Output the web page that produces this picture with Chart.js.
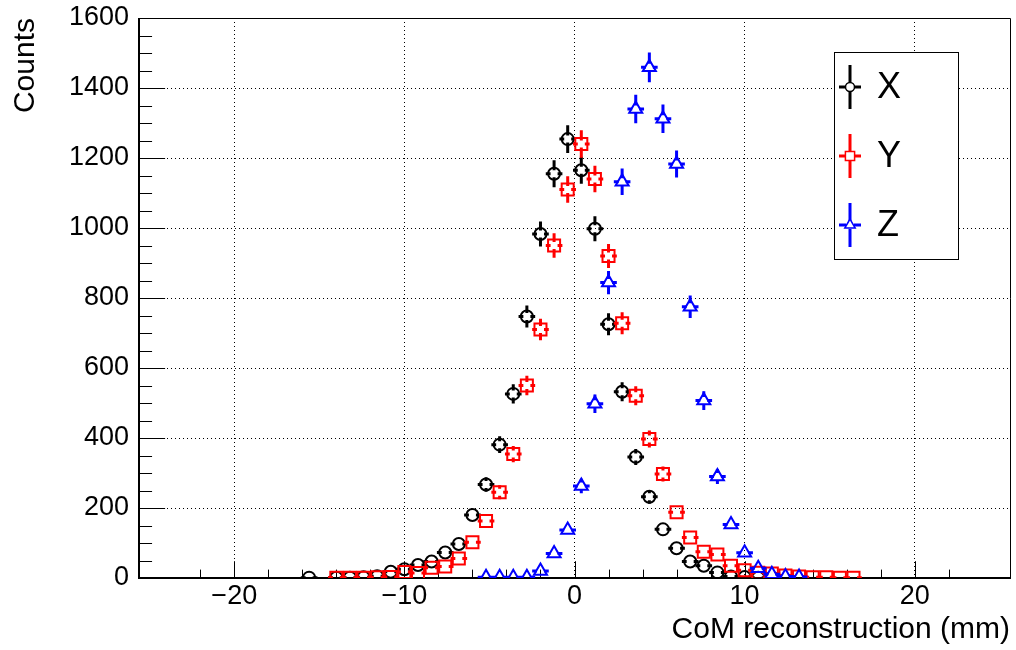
<!DOCTYPE html>
<html>
<head>
<meta charset="utf-8">
<title>CoM reconstruction</title>
<script src="https://cdn.jsdelivr.net/npm/chart.js@4.4.1/dist/chart.umd.min.js"></script>
<style>
  html, body { margin: 0; padding: 0; background: #fff; }
  #wrap { width: 1016px; height: 650px; }
</style>
</head>
<body>
<div id="wrap"><canvas id="comChart" width="1016" height="650"></canvas></div>
<script>
// ==================== DATA ====================
// bin centres (mm), bin width 0.8 mm
const binCenters = [
  -15.6, -14.8, -14.0, -13.2, -12.4, -11.6, -10.8, -10.0, -9.2, -8.4,
  -7.6, -6.8, -6.0, -5.2, -4.4, -3.6, -2.8, -2.0, -1.2, -0.4,
  0.4, 1.2, 2.0, 2.8, 3.6, 4.4, 5.2, 6.0, 6.8, 7.6,
  8.4, 9.2, 10.0, 10.8, 11.6, 12.4, 13.2, 14.0, 14.8, 15.6,
  16.4
];
const BIN_HALF = 0.4;

// null = empty bin (not drawn)
const countsX = [
  1, null, 1, 1, 2, 5, 18, 25, 37, 47,
  73, 97, 180, 267, 381, 526, 747, 983, 1155, 1254,
  1165, 998, 725, 532, 346, 232, 139, 85, 47, 35,
  16, 4, 3, 1, null, null, null, null, null, null,
  null
];
const countsY = [
  null, null, 1, 1, 1, 2, 3, 17, 14, 29,
  33, 56, 102, 163, 245, 354, 550, 710, 950, 1110,
  1240, 1140, 920, 728, 521, 397, 297, 188, 116, 75,
  67, 35, 22, 15, 13, 7, 4, 2, 2, 1,
  1
];
const countsZ = [
  null, null, null, null, null, null, null, null, null, null,
  null, null, null, 2, 2, 2, 2, 20, 70, 137,
  263, 498, 844, 1132, 1340, 1459, 1312, 1183, 775, 507,
  290, 153, 72, 28, 11, 4, 3, null, null, null,
  null
];

const seriesNames = ['X', 'Y', 'Z'];
const xTitle = 'CoM reconstruction (mm)';
const yTitle = 'Counts';

// ==================== CONFIG ====================
const FONT = "'Liberation Sans', Arial, Helvetica, sans-serif";
Chart.defaults.font.family = FONT;
Chart.defaults.color = '#000';

const X_MIN = -25.6, X_MAX = 25.6;
const Y_MIN = 0, Y_MAX = 1600;

const LEGEND = { x1: 834, y1: 52, x2: 958, y2: 259, row0: 35, rowStep: 69 };

// ==================== HELPERS ====================
function toPoints(counts) {
  const pts = [];
  counts.forEach((c, i) => {
    if (c !== null) pts.push({ x: binCenters[i], y: c });
  });
  return pts;
}

function isMult(v, m) {
  return Math.abs(v / m - Math.round(v / m)) < 1e-6;
}

function fmtX(v) {
  return v < 0 ? '\u2212' + Math.abs(v) : String(v);
}

// ==================== PLUGINS ====================
// sqrt(N) vertical errors, half-bin horizontal errors, with a gap round the marker
const errorBars = {
  id: 'errorBars',
  afterDatasetDraw(chart, args) {
    const ds = chart.data.datasets[args.index];
    const { ctx, chartArea, scales: { x: xs, y: ys } } = chart;
    const gap = ds.errGap;
    ctx.save();
    ctx.beginPath();
    ctx.rect(chartArea.left, chartArea.top, chartArea.right - chartArea.left, chartArea.bottom - chartArea.top);
    ctx.clip();
    ctx.strokeStyle = ds.borderColor;
    ctx.lineWidth = 3;
    ctx.lineCap = 'square';
    ctx.beginPath();
    args.meta.data.forEach((pt, i) => {
      const d = ds.data[i];
      const err = Math.sqrt(d.y);
      const yHi = ys.getPixelForValue(d.y + err);
      const yLo = ys.getPixelForValue(d.y - err);
      const xLo = xs.getPixelForValue(d.x - BIN_HALF);
      const xHi = xs.getPixelForValue(d.x + BIN_HALF);
      if (pt.y - yHi > gap) { ctx.moveTo(pt.x, pt.y - gap); ctx.lineTo(pt.x, yHi); }
      if (yLo - pt.y > gap) { ctx.moveTo(pt.x, pt.y + gap); ctx.lineTo(pt.x, yLo); }
      if (pt.x - xLo > gap) { ctx.moveTo(xLo, pt.y); ctx.lineTo(pt.x - gap, pt.y); }
      if (xHi - pt.x > gap) { ctx.moveTo(pt.x + gap, pt.y); ctx.lineTo(xHi, pt.y); }
    });
    ctx.stroke();
    ctx.restore();
  }
};

// ROOT style frame with tick marks pointing inwards
const frameTicks = {
  id: 'frameTicks',
  beforeDatasetsDraw(chart) {
    const { ctx, chartArea: a, scales: { x: xs, y: ys } } = chart;
    const w = a.right - a.left, h = a.bottom - a.top;
    ctx.save();
    ctx.strokeStyle = '#000';
    ctx.lineWidth = 1;
    ctx.beginPath();
    xs.ticks.forEach(t => {
      if (!isMult(t.value, 2)) return;
      const px = Math.round(xs.getPixelForValue(t.value)) + 0.5;
      const len = isMult(t.value, 10) ? 0.03 * h : 0.015 * h;
      ctx.moveTo(px, a.bottom);
      ctx.lineTo(px, a.bottom - len);
    });
    ys.ticks.forEach(t => {
      const py = Math.round(ys.getPixelForValue(t.value)) + 0.5;
      const len = isMult(t.value, 200) ? 0.03 * w : 0.015 * w;
      ctx.moveTo(a.left, py);
      ctx.lineTo(a.left + len, py);
    });
    ctx.stroke();
    // top / right thin
    ctx.beginPath();
    ctx.moveTo(a.left, a.top + 0.5);
    ctx.lineTo(a.right + 0.5, a.top + 0.5);
    ctx.lineTo(a.right + 0.5, a.bottom);
    ctx.stroke();
    // left / bottom axis lines
    ctx.lineWidth = 2;
    ctx.beginPath();
    ctx.moveTo(a.left, a.top);
    ctx.lineTo(a.left, a.bottom);
    ctx.lineTo(a.right + 1, a.bottom);
    ctx.stroke();
    ctx.restore();
  }
};

const rootLegend = {
  id: 'rootLegend',
  afterDraw(chart) {
    const ctx = chart.ctx;
    const L = LEGEND;
    ctx.save();
    ctx.fillStyle = '#fff';
    ctx.fillRect(L.x1, L.y1, L.x2 - L.x1, L.y2 - L.y1);
    ctx.strokeStyle = '#000';
    ctx.lineWidth = 1;
    ctx.strokeRect(L.x1 + 0.5, L.y1 + 0.5, L.x2 - L.x1, L.y2 - L.y1);

    chart.data.datasets.forEach((ds, i) => {
      const cx = L.x1 + 16;
      const cy = L.y1 + L.row0 + i * L.rowStep;
      ctx.strokeStyle = ds.borderColor;
      ctx.lineWidth = 3;
      ctx.lineCap = 'butt';
      ctx.beginPath();
      ctx.moveTo(cx, cy - 22); ctx.lineTo(cx, cy - 4);
      ctx.moveTo(cx, cy + 4); ctx.lineTo(cx, cy + 22);
      ctx.moveTo(cx - 11, cy); ctx.lineTo(cx - 4, cy);
      ctx.moveTo(cx + 4, cy); ctx.lineTo(cx + 11, cy);
      ctx.stroke();
      ctx.fillStyle = '#fff';
      ctx.lineWidth = 1.5;
      Chart.helpers.drawPoint(ctx, {
        pointStyle: ds.pointStyle, rotation: 0,
        radius: ds.legendRadius, borderWidth: 1.5
      }, cx, cy);

      ctx.fillStyle = '#000';
      ctx.font = '36px ' + FONT;
      ctx.textAlign = 'left';
      ctx.textBaseline = 'middle';
      ctx.fillText(ds.label, L.x1 + 43, cy + 1);
    });
    ctx.restore();
  }
};

// ==================== CHART ====================
function makeDataset(label, counts, color, style, radius, gap, legendRadius, order) {
  return {
    label,
    data: toPoints(counts),
    borderColor: color,
    backgroundColor: 'rgba(0,0,0,0)',
    pointStyle: style,
    pointRadius: radius,
    pointBorderWidth: 2,
    pointHoverRadius: radius,
    showLine: false,
    errGap: gap,
    legendRadius,
    order
  };
}

function renderChart() {
  const ctx = document.getElementById('comChart');
  new Chart(ctx, {
    type: 'scatter',
    data: {
      datasets: [
        makeDataset(seriesNames[0], countsX, '#000000', 'circle', 6, 5, 4.5, 3),
        makeDataset(seriesNames[1], countsY, '#ff0000', 'rect', 8.5, 5, 6.5, 2),
        makeDataset(seriesNames[2], countsZ, '#0000ff', 'triangle', 7.5, 5, 6, 1)
      ]
    },
    options: {
      responsive: false,
      animation: false,
      devicePixelRatio: 1,
      layout: { autoPadding: false, padding: { top: 18, right: 6, left: 0, bottom: 0 } },
      plugins: {
        legend: { display: false },
        tooltip: { enabled: false }
      },
      scales: {
        x: {
          type: 'linear',
          min: X_MIN,
          max: X_MAX,
          afterFit: s => { s.height = 72; s.paddingLeft = 0; s.paddingRight = 0; },
          ticks: {
            stepSize: 2,
            autoSkip: false,
            maxRotation: 0,
            padding: 2,
            color: '#000',
            font: { size: 27 },
            callback: v => isMult(v, 10) ? fmtX(v) : ''
          },
          grid: {
            drawTicks: false,
            lineWidth: 1,
            color: c => (c.tick && isMult(c.tick.value, 10)) ? '#000' : 'rgba(0,0,0,0)'
          },
          border: { display: false, dash: [1, 3] },
          title: {
            display: true,
            text: xTitle,
            align: 'end',
            color: '#000',
            font: { size: 30 },
            padding: { top: 0, bottom: 2 }
          }
        },
        y: {
          type: 'linear',
          min: Y_MIN,
          max: Y_MAX,
          afterFit: s => { s.width = 139; s.paddingTop = 0; s.paddingBottom = 0; },
          ticks: {
            stepSize: 50,
            autoSkip: false,
            padding: 10,
            color: '#000',
            font: { size: 27 },
            callback: v => isMult(v, 200) ? String(v) : ''
          },
          grid: {
            drawTicks: false,
            lineWidth: 1,
            color: c => (c.tick && isMult(c.tick.value, 200) && c.tick.value > Y_MIN && c.tick.value < Y_MAX) ? '#000' : 'rgba(0,0,0,0)'
          },
          border: { display: false, dash: [1, 3] },
          title: {
            display: true,
            text: yTitle,
            align: 'end',
            color: '#000',
            font: { size: 30 },
            padding: { top: 8, bottom: 0 }
          }
        }
      }
    },
    plugins: [frameTicks, errorBars, rootLegend]
  });
}

document.addEventListener('DOMContentLoaded', renderChart);
</script>
</body>
</html>
